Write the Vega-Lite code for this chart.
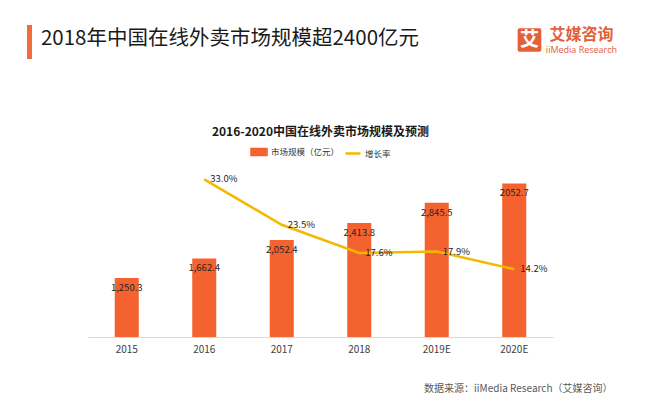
{
  "$schema": "https://vega.github.io/schema/vega-lite/v6.json",
  "background": "white",
  "padding": {"left": 0, "top": 25, "right": 0, "bottom": 0},
  "spacing": 0,
  "resolve": {"scale": {"color": "independent"}, "legend": {"color": "independent"}},
  "config": {
    "view": {"stroke": null},
    "font": "Noto Sans CJK SC",
    "legend": {"layout": {"top": {"anchor": "middle"}}}
  },
  "datasets": {
    "market": [
      {"year": "2015", "value": 1250.3, "label": "1,250.3", "growth": null, "glabel": ""},
      {"year": "2016", "value": 1662.4, "label": "1,662.4", "growth": 33.0, "glabel": "33.0%"},
      {"year": "2017", "value": 2052.4, "label": "2,052.4", "growth": 23.5, "glabel": "23.5%"},
      {"year": "2018", "value": 2413.8, "label": "2,413.8", "growth": 17.6, "glabel": "17.6%"},
      {"year": "2019E", "value": 2845.5, "label": "2,845.5", "growth": 17.9, "glabel": "17.9%"},
      {"year": "2020E", "value": 3252.7, "label": "2052.7", "growth": 14.2, "glabel": "14.2%"}
    ],
    "blank": [{"k": 1}]
  },
  "vconcat": [
    {
      "spacing": 0,
      "hconcat": [
        {"width": 27, "height": 34, "data": {"name": "blank"}, "mark": {"type": "text"}, "encoding": {"text": {"value": ""}}},
        {"width": 5, "height": 34, "view": {"fill": "#f26b3a", "stroke": null}, "data": {"name": "blank"}, "mark": {"type": "text"}, "encoding": {"text": {"value": ""}}},
        {"width": 396, "height": 27, "data": {"name": "blank"},
         "mark": {"type": "text", "fontSize": 20.5, "font": "Noto Sans CJK SC", "color": "#1a1a1a", "align": "center", "baseline": "middle"},
         "encoding": {"text": {"value": "2018年中国在线外卖市场规模超2400亿元"}}},
        {"width": 88, "height": 34, "data": {"name": "blank"}, "mark": {"type": "text"}, "encoding": {"text": {"value": ""}}},
        {"width": 27, "height": 30, "data": {"name": "blank"},
         "layer": [
           {"mark": {"type": "point", "shape": "M-0.85,-1H0.85Q1,-1,1,-0.85V0.85Q1,1,0.85,1H-0.85Q-1,1,-1,0.85V-0.85Q-1,-1,-0.85,-1Z", "size": 560, "filled": true, "color": "#e2603a", "opacity": 1, "strokeWidth": 0}},
           {"mark": {"type": "text", "fontSize": 19, "fontWeight": "bold", "color": "white", "align": "center", "baseline": "middle"}, "encoding": {"text": {"value": "艾"}}}
         ]},
        {"width": 77, "height": 30, "data": {"name": "blank"},
         "layer": [
           {"mark": {"type": "text", "fontSize": 16, "fontWeight": "bold", "color": "#e2603a", "align": "center", "baseline": "middle", "dy": -5.5}, "encoding": {"text": {"value": "艾媒咨询"}}},
           {"mark": {"type": "text", "fontSize": 9, "font": "Open Sans", "color": "#e2603a", "align": "center", "baseline": "middle", "dy": 10}, "encoding": {"text": {"value": "iiMedia Research"}}}
         ]}
      ]
    },
    {"width": 1, "height": 66, "data": {"name": "blank"}, "mark": {"type": "text"}, "encoding": {"text": {"value": ""}}},
    {
      "spacing": 0,
      "resolve": {"scale": {"color": "independent"}, "legend": {"color": "independent"}},
      "hconcat": [
        {"width": 88, "height": 1, "data": {"name": "blank"}, "mark": {"type": "text"}, "encoding": {"text": {"value": ""}}},
        {
          "width": 465,
          "height": 170,
          "data": {"name": "market"},
          "title": {"text": "2016-2020中国在线外卖市场规模及预测", "fontSize": 12, "fontWeight": "bold", "color": "#1a1a1a", "anchor": "middle", "offset": 4.5},
          "encoding": {
            "x": {
              "field": "year", "type": "ordinal", "sort": null,
              "scale": {"paddingInner": 0.69, "paddingOuter": 0.345},
              "axis": {
                "title": "数据来源：iiMedia Research（艾媒咨询）",
                "titleFontSize": 10, "titleFontWeight": "normal", "titleColor": "#595959",
                "titleAnchor": "end", "titleAlign": "right", "titleBaseline": "middle",
                "titleX": 524, "titleY": 51,
                "labelFontSize": 10, "labelColor": "#404040", "labelPadding": 7, "labelAngle": 0,
                "ticks": false, "domainColor": "#d9d9d9", "domainWidth": 1
              }
            }
          },
          "layer": [
            {
              "mark": {"type": "bar"},
              "encoding": {
                "y": {"field": "value", "type": "quantitative", "scale": {"domain": [0, 3600], "nice": false}, "axis": null},
                "color": {
                  "datum": "市场规模（亿元）",
                  "scale": {"domain": ["市场规模（亿元）", "增长率"], "range": ["#f4622f", "#f5b800"]},
                  "legend": {
                    "orient": "top", "direction": "horizontal", "title": null,
                    "labelFontSize": 8.5, "labelColor": "#333333", "symbolSize": 225,
                    "labelOffset": 3, "columnPadding": 0, "offset": 7,
                    "encode": {"symbols": {"update": {
                      "shape": {"signal": "datum.value === '增长率' ? 'stroke' : 'M-1,-0.4H1V0.4H-1Z'"},
                      "fill": {"signal": "datum.value === '增长率' ? 'transparent' : '#f4622f'"},
                      "stroke": {"signal": "datum.value === '增长率' ? '#f5b800' : 'transparent'"},
                      "strokeWidth": {"value": 2.5},
                      "opacity": {"value": 1}
                    }}}
                  }
                }
              }
            },
            {
              "mark": {"type": "text", "dy": 10, "baseline": "middle", "align": "center", "fontSize": 9.5, "color": "#262626"},
              "encoding": {
                "y": {"field": "value", "type": "quantitative", "scale": {"domain": [0, 3600], "nice": false}, "axis": null},
                "text": {"field": "label"}
              }
            },
            {
              "mark": {"type": "line", "strokeWidth": 2.5},
              "encoding": {
                "y": {"field": "growth", "type": "quantitative", "scale": {"domain": [0, 35.6], "nice": false}, "axis": null},
                "color": {"datum": "增长率"}
              }
            },
            {
              "mark": {"type": "text", "dx": 6, "baseline": "middle", "align": "left", "fontSize": 9.5, "color": "#262626"},
              "encoding": {
                "y": {"field": "growth", "type": "quantitative", "scale": {"domain": [0, 35.6], "nice": false}, "axis": null},
                "text": {"field": "glabel"}
              }
            }
          ],
          "resolve": {"scale": {"y": "independent"}}
        }
      ]
    },
    {"width": 1, "height": 12.5, "data": {"name": "blank"}, "mark": {"type": "text"}, "encoding": {"text": {"value": ""}}},
    {"width": 627, "height": 1.5, "view": {"fill": "#d9d9d9", "stroke": null}, "data": {"name": "blank"}, "mark": {"type": "text"}, "encoding": {"text": {"value": ""}}}
  ]
}
